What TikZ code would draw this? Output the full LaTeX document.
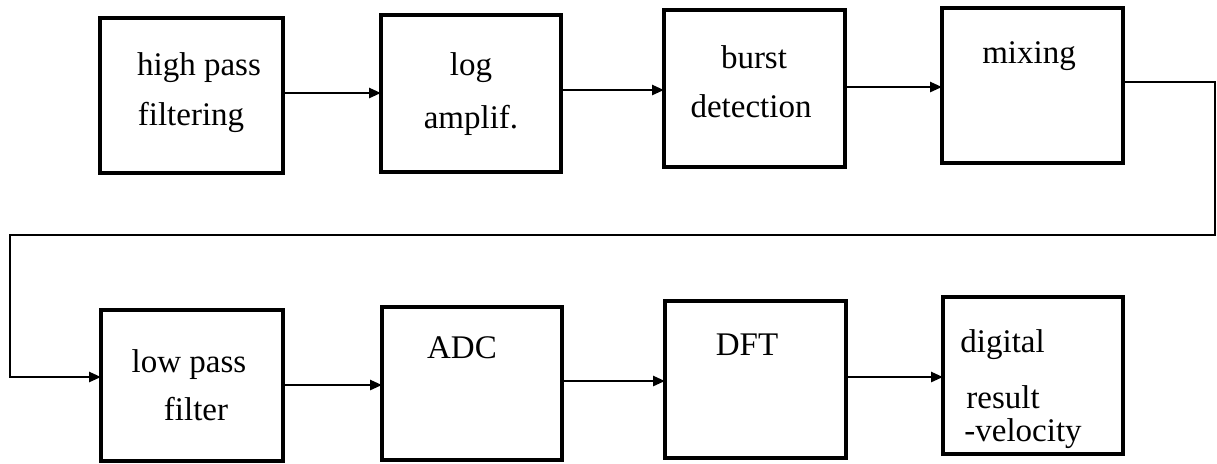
\documentclass[tikz,border=0pt]{standalone}
\usepackage{fontspec}
\setmainfont{Liberation Serif}
\usetikzlibrary{arrows.meta}
\begin{document}
\begin{tikzpicture}[x=0.5pt, y=-0.5pt,
  box/.style={draw, line width=1.6pt, inner sep=0pt, outer sep=0pt},
  lbl/.style={font=\fontsize{16.5}{20}\selectfont, inner sep=0pt, anchor=base},
  lblw/.style={lbl, anchor=base west},
  arr/.style={line width=1.3pt, line join=miter, -{Triangle[length=6pt,width=5pt]}},
]
\useasboundingbox (0,0) rectangle (1217,463);
% top row
\node[box, minimum width=91.5pt, minimum height=77.5pt] (b1) at (191.5,95.5) {};
\node[box, minimum width=90pt,   minimum height=78.5pt] (b2) at (471,93.5) {};
\node[box, minimum width=90.5pt, minimum height=78.5pt] (b3) at (754.5,88.5) {};
\node[box, minimum width=90.5pt, minimum height=77.5pt] (b4) at (1032.5,85.5) {};
% bottom row
\node[box, minimum width=91pt,   minimum height=75.5pt] (b5) at (192,385.5) {};
\node[box, minimum width=90pt,   minimum height=76.5pt] (b6) at (472,383.5) {};
\node[box, minimum width=90.5pt, minimum height=78.5pt] (b7) at (755.5,379.5) {};
\node[box, minimum width=90pt,   minimum height=78.5pt] (b8) at (1033,375.5) {};
% labels
\node[lbl] (t1a) at (199,75) {high pass};
\node[lbl] (t1b) at (191,125) {filtering};
\node[lbl] (t2a) at (471,75) {log};
\node[lbl] (t2b) at (471,128) {amplif.};
\node[lbl] (t3a) at (754,68) {burst};
\node[lbl] (t3b) at (751,117) {detection};
\node[lbl] (t4) at (1029,63) {mixing};
\node[lbl] (t5a) at (189,372) {low pass};
\node[lbl] (t5b) at (196,420) {filter};
\node[lbl] (t6) at (462,358) {ADC};
\node[lbl] (t7) at (747,355) {DFT};
\node[lblw] (t8a) at (960,352) {digital};
\node[lblw] (t8b) at (966,408) {result};
\node[lblw] (t8c) at (964,441) {-velocity};
% connectors
\draw[arr] (b1.east |- 0,93) -- (b2.west |- 0,93);
\draw[arr] (b2.east |- 0,90) -- (b3.west |- 0,90);
\draw[arr] (b3.east |- 0,87) -- (b4.west |- 0,87);
\coordinate (r1) at (1215,235);
\coordinate (r2) at (10,235);
\draw[arr] (b4.east |- 0,82) -| (r1) -- (r2) |- (b5.west |- 0,377);
\draw[arr] (b5.east |- 0,385) -- (b6.west |- 0,385);
\draw[arr] (b6.east |- 0,381) -- (b7.west |- 0,381);
\draw[arr] (b7.east |- 0,377) -- (b8.west |- 0,377);
\end{tikzpicture}
\end{document}
